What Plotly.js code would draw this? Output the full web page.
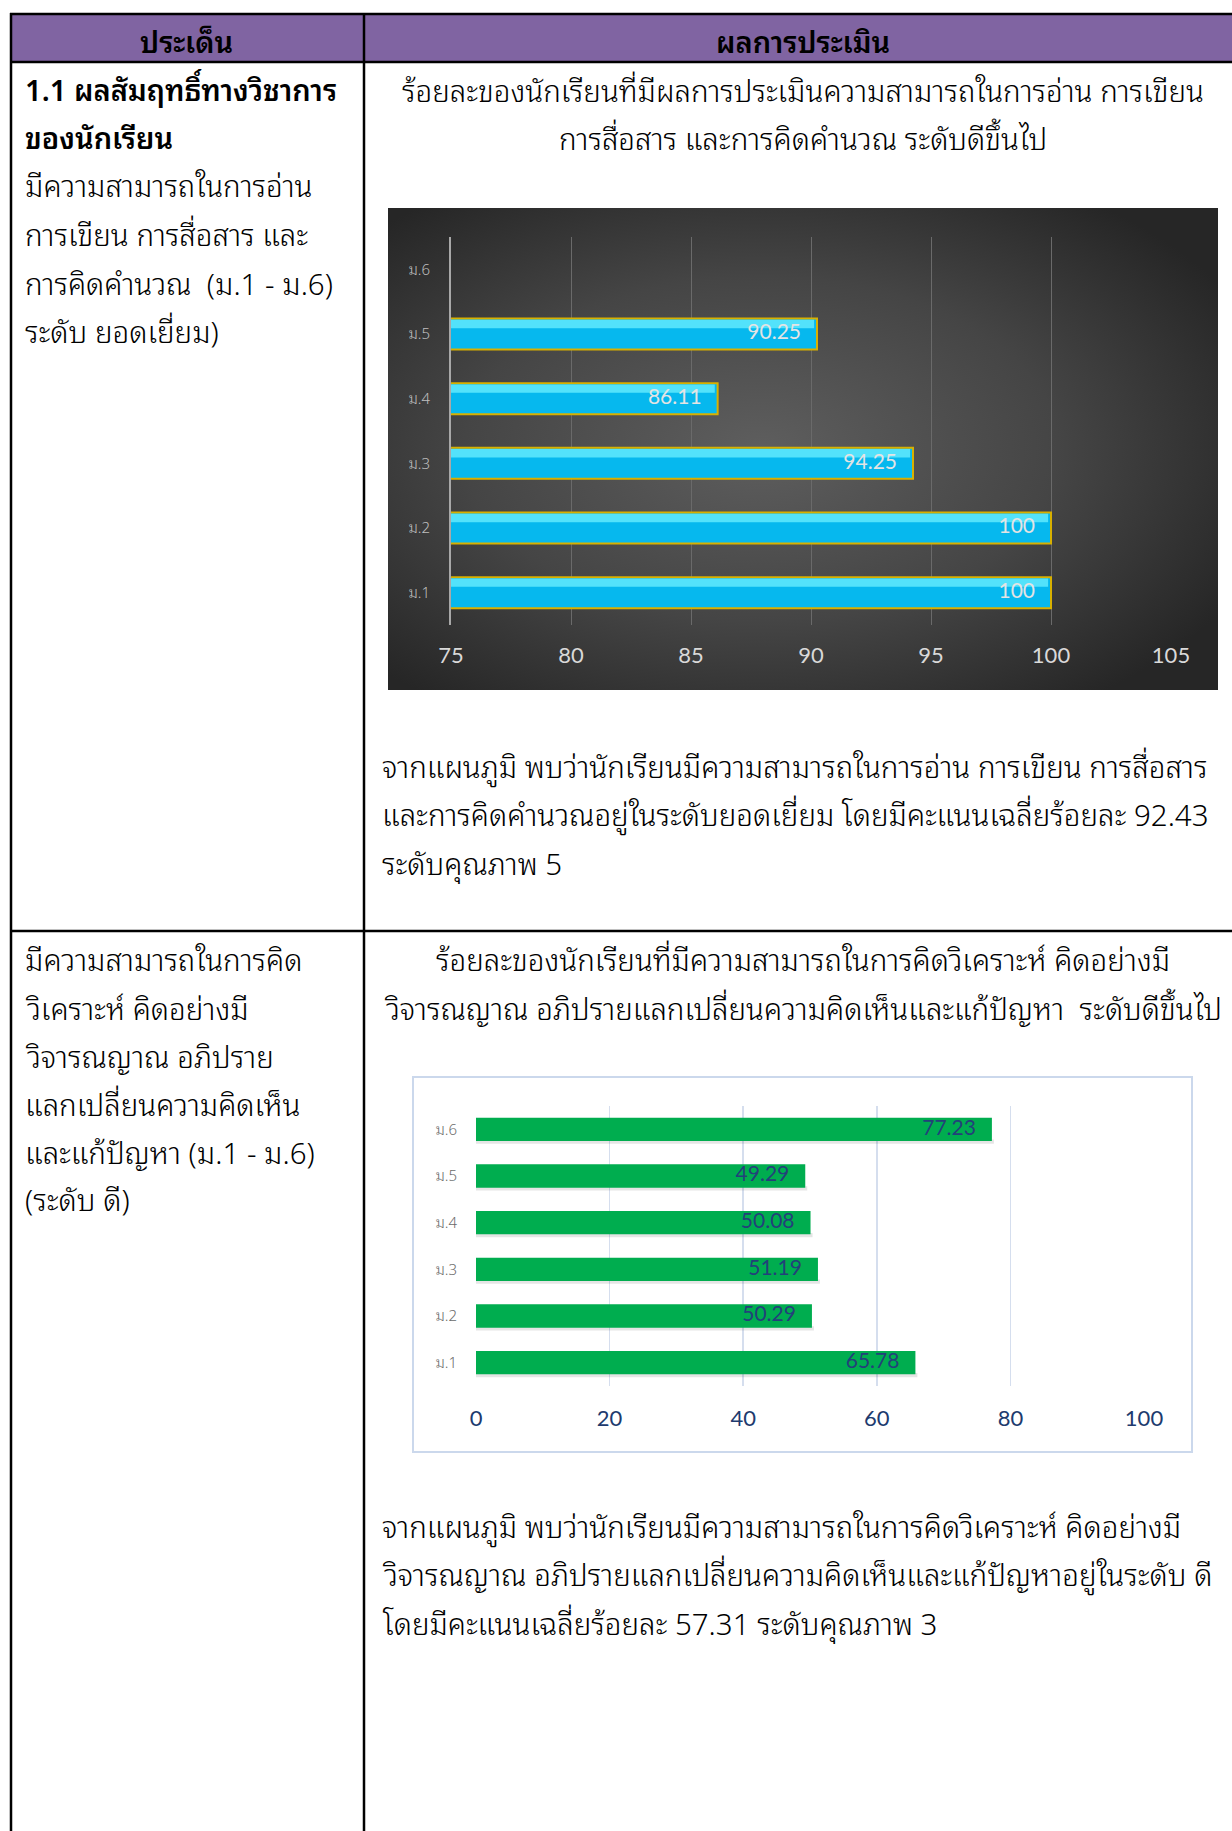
<!DOCTYPE html>
<html>
<head>
<meta charset="utf-8">
<script src="https://cdn.plot.ly/plotly-3.0.1.min.js"></script>
<style>
html,body{margin:0;padding:0;background:#fff;}
#chart{width:1232px;height:1831px;}
</style>
</head>
<body>
<div id="chart"></div>
<script>
// ---- data ----
const grades = ['ม.1','ม.2','ม.3','ม.4','ม.5','ม.6'];
const literacyPct = [100, 100, 94.25, 86.11, 90.25, null];
const thinkingPct = [65.78, 50.29, 51.19, 50.08, 49.29, 77.23];
const literacyTicks = [75, 80, 85, 90, 95, 100, 105];
const thinkingTicks = [0, 20, 40, 60, 80, 100];

const headerLabels = ['ประเด็น', 'ผลการประเมิน'];
const row1Left = ['1.1 ผลสัมฤทธิ์ทางวิชาการ', 'ของนักเรียน', 'มีความสามารถในการอ่าน', 'การเขียน การสื่อสาร และ', 'การคิดคำนวณ  (ม.1 - ม.6)', 'ระดับ ยอดเยี่ยม)'];
const row1Title = ['ร้อยละของนักเรียนที่มีผลการประเมินความสามารถในการอ่าน การเขียน', 'การสื่อสาร และการคิดคำนวณ ระดับดีขึ้นไป'];
const row1Summary = ['จากแผนภูมิ พบว่านักเรียนมีความสามารถในการอ่าน การเขียน การสื่อสาร', 'และการคิดคำนวณอยู่ในระดับยอดเยี่ยม โดยมีคะแนนเฉลี่ยร้อยละ 92.43', 'ระดับคุณภาพ 5'];
const row2Left = ['มีความสามารถในการคิด', 'วิเคราะห์ คิดอย่างมี', 'วิจารณญาณ อภิปราย', 'แลกเปลี่ยนความคิดเห็น', 'และแก้ปัญหา (ม.1 - ม.6)', '(ระดับ ดี)'];
const row2Title = ['ร้อยละของนักเรียนที่มีความสามารถในการคิดวิเคราะห์ คิดอย่างมี', 'วิจารณญาณ อภิปรายแลกเปลี่ยนความคิดเห็นและแก้ปัญหา  ระดับดีขึ้นไป'];
const row2Summary = ['จากแผนภูมิ พบว่านักเรียนมีความสามารถในการคิดวิเคราะห์ คิดอย่างมี', 'วิจารณญาณ อภิปรายแลกเปลี่ยนความคิดเห็นและแก้ปัญหาอยู่ในระดับ ดี', 'โดยมีคะแนนเฉลี่ยร้อยละ 57.31 ระดับคุณภาพ 3'];

// ---- layout helpers ----
const W = 1232, H = 1831;
const px = v => v / W;
const py = v => 1 - v / H;
const THAI = '"Noto Sans Thai Looped", "Noto Serif Thai", "TH Sarabun New", "Sarabun", "Garuda", "Loma", "Norasi", "Noto Sans Thai", "Noto Sans", sans-serif';
const NUM = 'Lato, "Liberation Sans", sans-serif';
const TXT = 29.5;
const DY = -3;

const annotations = [];
function addText(t, x, y, opts) {
  annotations.push(Object.assign({
    text: t, xref: 'paper', yref: 'paper', x: px(x), y: py(y + DY),
    xanchor: 'left', yanchor: 'middle', showarrow: false,
    font: {family: THAI, size: TXT, color: '#000', weight: 300}
  }, opts || {}));
}
const boldFont = {family: THAI, size: 29, color: '#000', weight: 600};
addText(headerLabels[0], 187, 43, {xanchor: 'center', font: boldFont});
addText(headerLabels[1], 803, 43, {xanchor: 'center', font: boldFont});
const leftY1 = [91, 139, 187, 236, 284, 332];
row1Left.forEach((t, i) => addText(t, 23, leftY1[i], i < 2 ? {font: boldFont} : {}));
[91, 139].forEach((y, i) => addText(row1Title[i], 803, y, {xanchor: 'center'}));
[767, 815, 864].forEach((y, i) => addText(row1Summary[i], 380, y));
const leftY2 = [961, 1009, 1057, 1105, 1153, 1200];
row2Left.forEach((t, i) => addText(t, 23, leftY2[i]));
[961, 1009].forEach((y, i) => addText(row2Title[i], 803, y, {xanchor: 'center'}));
[1527, 1575, 1624].forEach((y, i) => addText(row2Summary[i], 380, y));

const shapes = [
  {type: 'rect', xref: 'paper', yref: 'paper', x0: px(11), x1: px(1232), y0: py(14), y1: py(62), fillcolor: '#8064A2', line: {width: 0}, layer: 'below'},
  {type: 'rect', xref: 'paper', yref: 'paper', x0: px(413), x1: px(1192), y0: py(1077), y1: py(1452), fillcolor: 'rgba(0,0,0,0)', line: {color: '#CBD8EC', width: 2}, layer: 'below'},
];
function hline(y, x0, x1) { shapes.push({type: 'line', xref: 'paper', yref: 'paper', x0: px(x0), x1: px(x1), y0: py(y), y1: py(y), line: {color: '#000', width: 2.5}}); }
function vline(x, y0, y1) { shapes.push({type: 'line', xref: 'paper', yref: 'paper', x0: px(x), x1: px(x), y0: py(y0), y1: py(y1), line: {color: '#000', width: 2.5}}); }
hline(14, 10, 1232);
hline(62, 10, 1232);
hline(931, 10, 1232);
vline(11, 13, 1831);
vline(364, 13, 1831);

const bgSvg = '<svg xmlns="http://www.w3.org/2000/svg" width="830" height="482">' +
  '<defs><radialGradient id="g" cx="0.45" cy="0.5" r="0.65">' +
  '<stop offset="0" stop-color="#5e5e5e"/><stop offset="0.55" stop-color="#454545"/><stop offset="1" stop-color="#262626"/>' +
  '</radialGradient></defs><rect width="830" height="482" fill="url(#g)"/></svg>';
const images = [{
  source: 'data:image/svg+xml;charset=utf-8,' + encodeURIComponent(bgSvg),
  xref: 'paper', yref: 'paper', x: px(388), y: py(208), sizex: (1218 - 388) / W, sizey: (690 - 208) / H,
  sizing: 'stretch', xanchor: 'left', yanchor: 'top', layer: 'below'
}];

const fmt = v => (v === null ? '' : String(v));
// label padding from bar end, in axis units (~16 px)
const pad1 = 16 / (720 / 30);
const pad2 = 16 / (668 / 100);
const traces = [
  {
    type: 'bar', orientation: 'h', x: literacyPct, y: grades, xaxis: 'x', yaxis: 'y', width: 0.48, offset: -0.24,
    marker: {color: '#06B8EE', line: {color: '#D8B000', width: 2}}, hoverinfo: 'skip'
  },
  {
    type: 'bar', orientation: 'h', x: literacyPct.map(v => v === null ? null : v - 0.12), y: grades, xaxis: 'x', yaxis: 'y', width: 0.13, offset: 0.09,
    marker: {color: 'rgba(110,240,255,0.75)', line: {width: 0}}, hoverinfo: 'skip'
  },
  {
    type: 'scatter', mode: 'text', x: literacyPct.map(v => v === null ? null : v - pad1), y: grades, xaxis: 'x', yaxis: 'y',
    text: literacyPct.map(fmt), textposition: 'middle left',
    textfont: {family: NUM, size: 21, color: '#E4E4E4'}, hoverinfo: 'skip'
  },
  {
    type: 'bar', orientation: 'h', x: thinkingPct.map(v => v + 0.3), y: grades, xaxis: 'x2', yaxis: 'y2', width: 0.09, offset: -0.31,
    marker: {color: 'rgba(0,0,0,0.10)', line: {width: 0}}, hoverinfo: 'skip'
  },
  {
    type: 'bar', orientation: 'h', x: thinkingPct, y: grades, xaxis: 'x2', yaxis: 'y2', width: 0.5, offset: -0.25,
    marker: {color: '#00AD4F', line: {width: 0}}, hoverinfo: 'skip'
  },
  {
    type: 'scatter', mode: 'text', x: thinkingPct.map(v => v - pad2), y: grades, xaxis: 'x2', yaxis: 'y2',
    text: thinkingPct.map(fmt), textposition: 'middle left',
    textfont: {family: NUM, size: 21, color: '#23407A'}, hoverinfo: 'skip'
  }
];

const layout = {
  width: W, height: H, margin: {l: 0, r: 0, t: 0, b: 0}, barmode: 'overlay',
  paper_bgcolor: '#fff', plot_bgcolor: 'rgba(0,0,0,0)', showlegend: false,
  xaxis: {
    domain: [px(451), px(1171)], anchor: 'y', range: [75, 105], tickvals: literacyTicks,
    showgrid: true, gridcolor: '#6A6A6A', gridwidth: 1, zeroline: false, showline: false,
    ticks: '', ticklabelstandoff: 15, tickfont: {family: NUM, size: 22, color: '#D9D9D9'}, fixedrange: true
  },
  yaxis: {
    domain: [py(625), py(237)], anchor: 'x', type: 'category', categoryorder: 'array', categoryarray: grades,
    showgrid: false, showline: true, linecolor: '#A8A8A8', linewidth: 2, zeroline: false,
    ticks: '', ticklabelstandoff: 16, tickfont: {family: THAI, size: 15, color: '#BFBFBF', weight: 300}, fixedrange: true
  },
  xaxis2: {
    domain: [px(476), px(1144)], anchor: 'y2', range: [0, 100], tickvals: thinkingTicks,
    showgrid: true, gridcolor: '#D5DEEE', gridwidth: 1.5, zeroline: false, showline: false,
    ticks: '', ticklabelstandoff: 17, tickfont: {family: NUM, size: 22, color: '#203A6E'}, fixedrange: true
  },
  yaxis2: {
    domain: [py(1386), py(1106)], anchor: 'x2', type: 'category', categoryorder: 'array', categoryarray: grades,
    showgrid: false, showline: false, zeroline: false,
    ticks: '', ticklabelstandoff: 18, tickfont: {family: THAI, size: 15, color: '#6B6B6B', weight: 300}, fixedrange: true
  },
  annotations: annotations, shapes: shapes, images: images
};

Plotly.newPlot('chart', traces, layout, {staticPlot: true, displayModeBar: false});
</script>
</body>
</html>
